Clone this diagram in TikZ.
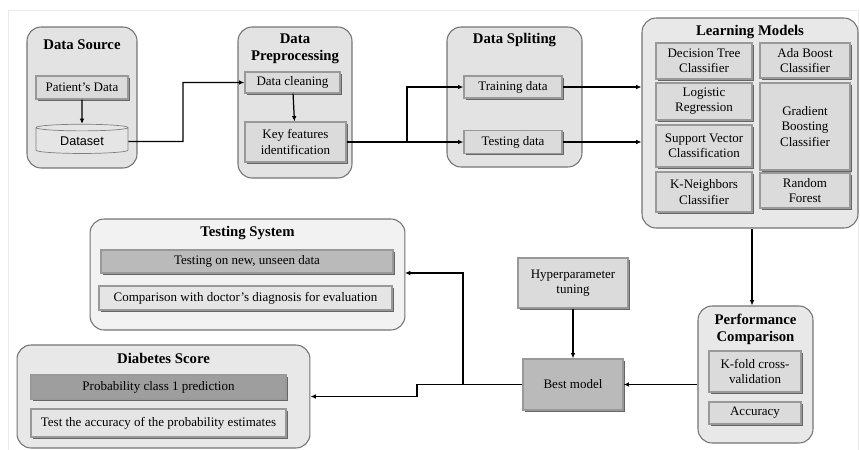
\documentclass[tikz,border=0pt]{standalone}
\usepackage{fontspec}
\setmainfont{Liberation Serif}
\newfontfamily\datafont{Liberation Sans}
\usetikzlibrary{arrows.meta,shapes.geometric,shadows}
\tikzset{
  grp/.style={draw=black!55,fill=black!11,rounded corners=8pt,line width=0.6pt},
  ttl/.style={font=\fontsize{8.4}{9.6}\selectfont\bfseries,align=center,inner sep=0pt},
  inbox/.style={draw=black!40,fill=black!14,line width=0.7pt,align=center,inner sep=1pt,
    font=\fontsize{7.4}{8.6}\selectfont,
    drop shadow={shadow xshift=1pt,shadow yshift=-1pt,fill=black!60,opacity=1}},
  darkbox/.style={inbox,fill=black!33},
  arr/.style={black,line width=0.7pt,-{Latex[length=3pt,width=2.6pt]}}
}
\begin{document}
\begin{tikzpicture}[x=0.02cm,y=-0.02cm]
\useasboundingbox (0,0) rectangle (860,450);
\draw[black!8](8,10) rectangle (858,450);
% Gruppen
\node[grp,minimum width=2.2cm,minimum height=2.82cm]at(82,97.5)(srcgrp){};
\node[grp,minimum width=2.28cm,minimum height=3.02cm]at(295,102.5)(pregrp){};
\node[grp,minimum width=2.7cm,minimum height=2.8cm]at(514.5,97)(splitgrp){};
\node[grp,fill=black!9,minimum width=4.32cm,minimum height=4.2cm]at(750,123)(learngrp){};
\node[grp,fill=black!9,minimum width=2.3cm,minimum height=2.74cm]at(755.5,374.5)(perfgrp){};
\node[grp,fill=black!5,minimum width=6.3cm,minimum height=2.22cm]at(247.5,274.5)(testgrp){};
\node[grp,fill=black!9,minimum width=5.86cm,minimum height=2.06cm]at(163.5,396.5)(diagrp){};
% Titel
\node[ttl]at(82,45)(srcttl){Data Source};
\node[ttl]at(295,49)(prettl){Data\\Preprocessing};
\node[ttl]at(514.5,40)(splitttl){Data Spliting};
\node[ttl]at(750,32)(learnttl){Learning Models};
\node[ttl]at(755.5,329)(perfttl){Performance\\Comparison};
\node[ttl]at(247.5,233)(testttl){Testing System};
\node[ttl]at(163.5,358)(diattl){Diabetes Score};
% Daten
\node[inbox,minimum width=1.84cm,minimum height=0.46cm]at(82,87.5)(patient){Patient's Data};
\node[cylinder,shape border rotate=90,aspect=0.12,draw=black!50,fill=black!10,
  minimum width=1.84cm,minimum height=0.58cm,font=\datafont\fontsize{7.2}{8}\selectfont]
  at(82,141.5)(dataset){Dataset};
\node[inbox,minimum width=1.9cm,minimum height=0.42cm]at(292.5,82.5)(clean){Data cleaning};
\node[inbox,minimum width=2.02cm,minimum height=0.8cm]at(295.5,142)(keyfeat){Key features\\identification};
\node[inbox,minimum width=1.96cm,minimum height=0.44cm]at(513,87)(train){Training data};
\node[inbox,minimum width=1.96cm,minimum height=0.46cm]at(513,142)(test){Testing data};
% Modelle
\node[inbox,minimum width=1.92cm,minimum height=0.72cm]at(704,61)(dtree){Decision Tree\\Classifier};
\node[inbox,minimum width=1.8cm,minimum height=0.7cm]at(805,60.5)(ada){Ada Boost\\Classifier};
\node[inbox,minimum width=1.92cm,minimum height=0.74cm]at(704,101.5)(logreg){Logistic\\Regression};
\node[inbox,minimum width=1.8cm,minimum height=1.74cm]at(805,126.5)(gbc){Gradient\\Boosting\\Classifier};
\node[inbox,minimum width=1.92cm,minimum height=0.84cm]at(704,146)(svc){Support Vector\\Classification};
\node[inbox,minimum width=1.92cm,minimum height=0.8cm]at(704,192)(knn){K-Neighbors\\Classifier};
\node[inbox,minimum width=1.8cm,minimum height=0.7cm]at(805,190.5)(rf){Random\\Forest};
% Bewertung
\node[inbox,minimum width=1.84cm,minimum height=0.82cm]at(755,371.5)(kfold){K-fold cross-\\validation};
\node[inbox,minimum width=1.84cm,minimum height=0.44cm]at(755,413)(acc){Accuracy};
\node[inbox,minimum width=2.2cm,minimum height=1cm]at(573,283)(hyper){Hyperparameter\\tuning};
\node[darkbox,fill=black!27,minimum width=2cm,minimum height=1.02cm]at(573,384.5)(best){Best model};
\node[darkbox,fill=black!27,minimum width=5.84cm,minimum height=0.46cm]at(247,261.5)(newdata){Testing on new, unseen data};
\node[inbox,fill=black!10,minimum width=5.86cm,minimum height=0.48cm]at(245.5,298)(compare){Comparison with doctor's diagnosis for evaluation};
\node[darkbox,fill=black!38,minimum width=5.1cm,minimum height=0.48cm]at(158.5,387)(prob){Probability class 1 prediction};
\node[inbox,fill=black!10,minimum width=5.1cm,minimum height=0.56cm]at(158.5,423)(accest){Test the accuracy of the probability estimates};
% Hilfspunkte
\coordinate (j1) at (183,141.5);
\coordinate (j2) at (407,142);
\coordinate (j3) at (463,384.5);
\coordinate (j4) at (417,384.5);
\coordinate (tsin) at (405,273);
% Pfeile
\draw[arr](patient) to (dataset);
\draw[arr](dataset.east) -- (j1) |- (clean.west);
\draw[arr](clean) to (keyfeat);
\draw[line width=0.7pt](keyfeat.east) -- (j2);
\draw[arr](j2) |- (train.west);
\draw[arr](j2) -- (test.west);
\draw[arr](train.east) -- (learngrp.west |- train.east);
\draw[arr](test.east) -- (learngrp.west |- test.east);
\draw[arr](learngrp.south -| 752,0) -- (perfgrp.north -| 752,0);
\draw[arr](perfgrp.west |- best.east) -- (best.east);
\draw[arr](hyper) to (best);
\draw[line width=0.7pt](best.west) -- (j3);
\draw[arr](j3) |- (tsin);
\draw[arr](j3) -- (j4) |- (diagrp.east);
\end{tikzpicture}
\end{document}
